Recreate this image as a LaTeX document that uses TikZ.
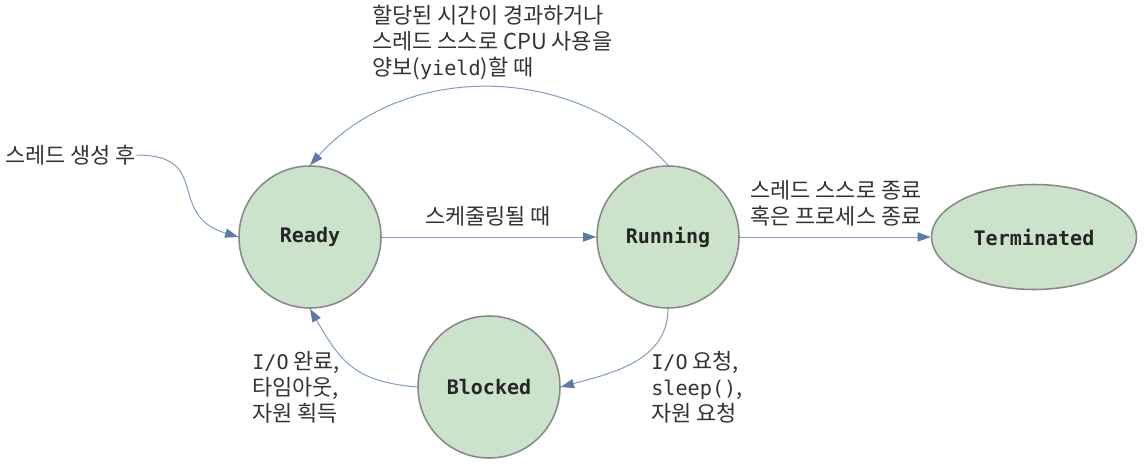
\documentclass[tikz,border=0pt]{standalone}
\usepackage{fontspec}
\setmainfont{Noto Sans CJK KR}
\setmonofont[Scale=0.92]{DejaVu Sans Mono}
\usetikzlibrary{positioning,arrows.meta,shapes.geometric}
\definecolor{stgreen}{HTML}{CCE3CB}
\definecolor{stgray}{HTML}{888888}
\definecolor{stblue}{HTML}{7F9CC2}
\definecolor{sttip}{HTML}{5A7BA8}
\definecolor{sttext}{HTML}{333333}
\begin{document}
\begin{tikzpicture}[font=\fontsize{15.6}{18.5}\selectfont,
  st/.style={circle,draw=stgray,fill=stgreen,line width=1.1pt,minimum size=3.55cm,inner sep=0pt,
    text=black!85,font=\fontsize{15.5}{18}\selectfont\ttfamily\bfseries},
  en/.style={st,ellipse,minimum width=5.125cm,minimum height=2.625cm},
  lb/.style={align=left,inner sep=0pt,text=sttext},
  ar/.style={-{Triangle[length=0.33cm,width=0.23cm,color=sttip]},stblue,line width=0.7pt}]
  \useasboundingbox (0,0) rectangle (28.7,11.85);
  \node[st] (ready) at (7.75,5.925) {Ready};
  \node[st] (run) at (16.7,5.925) {Running};
  \node[st] (blk) at (12.225,2.175) {Blocked};
  \node[en] (term) at (25.85,5.925) {Terminated};
  \node[lb,anchor=west] (init) at (0.125,7.975) {스레드 생성 후};
  \node[lb] (sched) at (12.2,6.45) {스케줄링될 때};
  \node[lb,anchor=west] (yld) at (9.3,10.8) {할당된 시간이 경과하거나\\스레드 스스로 CPU 사용을\\양보(\texttt{yield})할 때};
  \node[lb,anchor=west] (fin) at (18.75,6.76) {스레드 스스로 종료\\혹은 프로세스 종료};
  \node[lb,anchor=west] (wake) at (6.3,2.175) {\texttt{I/O} 완료,\\타임아웃,\\자원 획득};
  \node[lb,anchor=west] (wait) at (16.275,2.175) {\texttt{I/O} 요청,\\\texttt{sleep()},\\자원 요청};
  \draw[ar] (init.east) to[out=0,in=163,looseness=1.5] (ready.west);
  \draw[ar] (ready) -- (run);
  \draw[ar] (run.north) to[out=132,in=48] (ready.north);
  \draw[ar] (run) -- (term);
  \draw[ar] (run.south) to[out=-90,in=15] (blk.east);
  \draw[ar] (blk.west) to[out=175,in=-60,looseness=1.2] (ready.south);
\end{tikzpicture}
\end{document}
